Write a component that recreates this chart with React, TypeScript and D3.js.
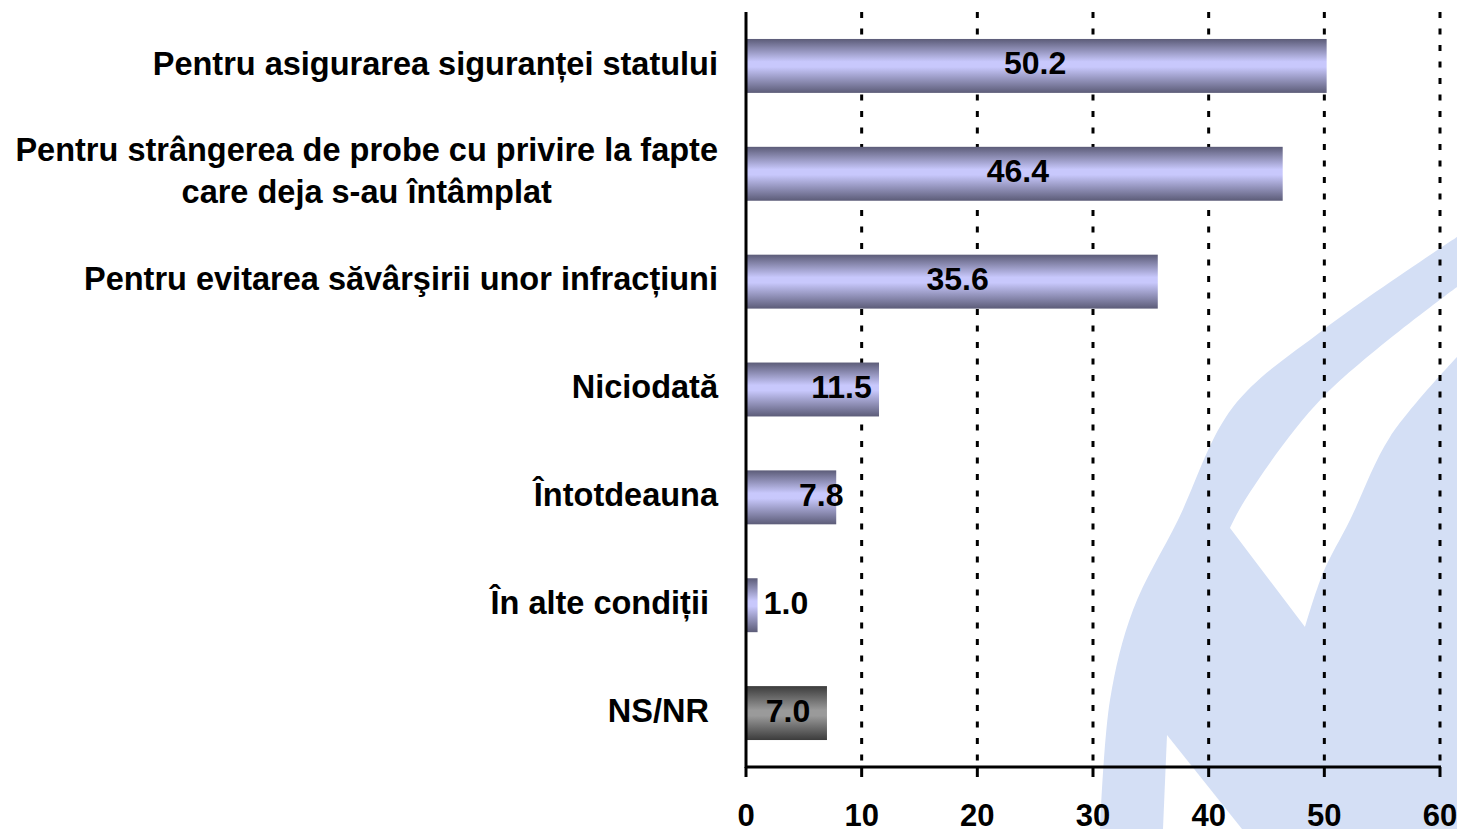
import React from "react";
import * as d3 from "d3";

const categories: string[][] = [
  ["Pentru asigurarea siguranței statului"],
  ["Pentru strângerea de probe cu privire la fapte", "care deja s-au întâmplat"],
  ["Pentru evitarea săvârşirii unor infracțiuni"],
  ["Niciodată"],
  ["Întotdeauna"],
  ["În alte condiții "],
  ["NS/NR "],
];
const values: number[] = [50.2, 46.4, 35.6, 11.5, 7.8, 1.0, 7.0];
const labelCenters: number[] = [25.0, 23.5, 18.3, 8.25, 6.5, 3.46, 3.63];
const barKinds: string[] = ["main", "main", "main", "main", "main", "main", "other"];
const xTicks: number[] = [0, 10, 20, 30, 40, 50, 60];

const W = 1457;
const H = 829;
const M = { left: 746, right: 1440, top: 12, bottom: 767 };
const FONT = '"Liberation Sans", Arial, sans-serif';
const CAT_SIZE = 32.5;
const VAL_SIZE = 32;
const TICK_SIZE = 31;
const TEXT_SHIFT = -3;

function measure(text: string, size: number): number {
  const c = document.createElement("canvas").getContext("2d");
  if (!c) return text.length * size * 0.55;
  c.font = `bold ${size}px ${FONT}`;
  return c.measureText(text).width;
}

export default function App() {
  const x = d3.scaleLinear().domain([0, 60]).range([M.left, M.right]);
  const y = d3
    .scaleBand<number>()
    .domain(d3.range(categories.length))
    .range([M.top, M.bottom])
    .paddingInner(0.5)
    .paddingOuter(0.25);

  const curve = d3.line<[number, number]>().curve(d3.curveCatmullRom.alpha(0.5));
  const outer: [number, number][] = [
    [1457, 237], [1323, 330], [1233, 407], [1178, 520], [1133, 610], [1110, 700], [1100, 829],
  ];
  const blue = curve(outer) + "L1457,829Z";
  const innerBand: [number, number][] = [[1457, 287], [1323, 397], [1245, 500], [1230, 528]];
  const blobEdge: [number, number][] = [[1305, 627], [1323, 573], [1350, 520], [1390, 437], [1457, 357]];
  const cut1 = curve(innerBand) + "L" + (curve(blobEdge) as string).slice(1) + "Z";
  const cut2 = "M1167,735L1163,829L1242,829Z";

  const labelRight = 718;

  return (
    <div style={{ position: "fixed", left: 0, top: 0 }}>
      <svg width={W} height={H} style={{ display: "block", background: "#fff" }}>
        <defs>
          <linearGradient id="gMain" x1="0" y1="0" x2="0" y2="1">
            <stop offset="0" stopColor="#5c5c78" />
            <stop offset="0.42" stopColor="#c8c8fc" />
            <stop offset="0.52" stopColor="#c8c8fc" />
            <stop offset="1" stopColor="#5c5c78" />
          </linearGradient>
          <linearGradient id="gOther" x1="0" y1="0" x2="0" y2="1">
            <stop offset="0" stopColor="#3c3c3c" />
            <stop offset="0.45" stopColor="#9a9a9a" />
            <stop offset="0.55" stopColor="#9a9a9a" />
            <stop offset="1" stopColor="#3c3c3c" />
          </linearGradient>
        </defs>
        <rect x={0} y={0} width={W} height={H} fill="#fff" />
        <g>
          <path d={blue} fill="#d4dff5" />
          <path d={cut1} fill="#fff" />
          <path d={cut2} fill="#fff" />
        </g>
        <g>
          {xTicks.filter((t) => t > 0).map((t) => (
            <line
              key={t}
              x1={x(t)}
              x2={x(t)}
              y1={M.top}
              y2={M.bottom}
              stroke="#000"
              strokeWidth={3}
              strokeDasharray="6 10.5"
            />
          ))}
        </g>
        <g>
          {values.map((v, i) => (
            <rect
              key={i}
              x={x(0)}
              y={y(i)}
              width={x(v) - x(0)}
              height={y.bandwidth()}
              fill={barKinds[i] === "other" ? "url(#gOther)" : "url(#gMain)"}
            />
          ))}
        </g>
        <g fontFamily={FONT} fontWeight="bold" fill="#000">
          {values.map((v, i) => {
            const cy = (y(i) as number) + y.bandwidth() / 2;
            return (
              <text
                key={i}
                x={x(labelCenters[i])}
                y={cy + (0.716 * VAL_SIZE) / 2 + TEXT_SHIFT}
                textAnchor="middle"
                fontSize={VAL_SIZE}
              >
                {v.toFixed(1)}
              </text>
            );
          })}
        </g>
        <line x1={x(0)} x2={x(0)} y1={M.top} y2={M.bottom + 1} stroke="#000" strokeWidth={3} />
        <line x1={x(0) - 1} x2={x(60) + 1} y1={M.bottom} y2={M.bottom} stroke="#000" strokeWidth={3} />
        <g fontFamily={FONT} fontWeight="bold" fill="#000">
          {xTicks.map((t) => (
            <g key={t}>
              <line x1={x(t)} x2={x(t)} y1={M.bottom} y2={M.bottom + 10} stroke="#000" strokeWidth={3} />
              <text x={x(t)} y={826} textAnchor="middle" fontSize={TICK_SIZE}>
                {t}
              </text>
            </g>
          ))}
        </g>
        <g fontFamily={FONT} fontWeight="bold" fill="#000">
          {categories.map((lines, i) => {
            const cy = (y(i) as number) + y.bandwidth() / 2;
            const lh = 42;
            const w0 = measure(lines[0], CAT_SIZE);
            const cx = labelRight - w0 / 2;
            const n = lines.length;
            return lines.map((ln, j) => {
              const ly = cy + (j - (n - 1) / 2) * lh + (0.716 * CAT_SIZE) / 2 + TEXT_SHIFT;
              return (
                <text
                  key={i + "-" + j}
                  x={n > 1 ? cx : labelRight}
                  y={ly}
                  textAnchor={n > 1 ? "middle" : "end"}
                  fontSize={CAT_SIZE}
                  style={{ whiteSpace: "pre" }}
                >
                  {ln}
                </text>
              );
            });
          })}
        </g>
      </svg>
    </div>
  );
}
